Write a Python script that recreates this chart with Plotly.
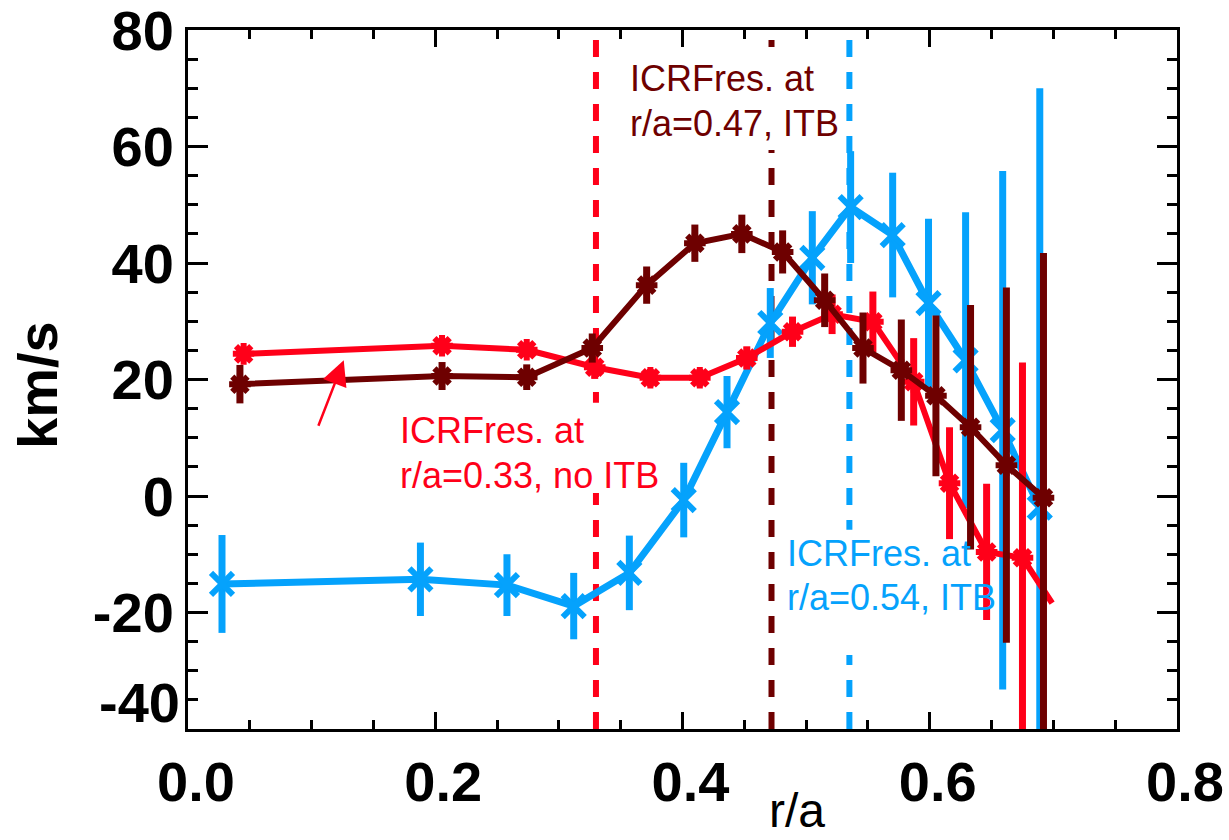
import plotly.graph_objects as go

# ---------------- data ----------------
blue_x = [0.0275, 0.188, 0.258, 0.312, 0.357, 0.401, 0.436, 0.471, 0.505, 0.536, 0.570, 0.599, 0.629, 0.659, 0.689]
blue_y = [-15.1, -14.3, -15.3, -18.9, -13.2, -0.7, 14.4, 29.7, 40.9, 49.6, 44.8, 33.1, 23.3, 11.3, -2.0]
blue_err = [8.4, 6.3, 5.3, 5.7, 6.4, 6.4, 6.2, 6.0, 8.0, 9.6, 10.7, 14.5, 25.4, 44.5, 72.0]

red_x = [0.045, 0.2055, 0.274, 0.329, 0.374, 0.414, 0.452, 0.489, 0.521, 0.554, 0.587, 0.616, 0.646, 0.675, 0.699]
red_y = [24.4, 25.8, 25.1, 22.1, 20.3, 20.3, 23.7, 28.2, 31.2, 29.9, 19.6, 2.2, -9.6, -10.6, -18.4]
red_err = [1.0, 1.0, 1.0, 2.0, 1.5, 1.5, 2.0, 2.6, 3.4, 5.2, 7.5, 9.6, 11.7, 33.5, 0.0]

dred_x = [0.042, 0.2055, 0.274, 0.327, 0.371, 0.410, 0.448, 0.481, 0.515, 0.546, 0.577, 0.605, 0.633, 0.662, 0.692]
dred_y = [19.2, 20.6, 20.4, 25.4, 36.2, 43.4, 45.0, 41.9, 33.6, 25.4, 21.6, 17.2, 11.8, 5.3, -0.3]
dred_err = [3.3, 2.4, 2.2, 2.5, 3.2, 3.2, 3.3, 3.7, 4.6, 6.1, 8.7, 13.8, 21.0, 30.5, 42.0]

res_red = 0.33
res_dred = 0.472
res_blue = 0.535

x_ticks = [0.0, 0.2, 0.4, 0.6, 0.8]
x_ticktext = ["0.0", "0.2", "0.4", "0.6", "0.8"]
y_ticks = [-20, 0, 20, 40, 60, 80]
y_ticktext = ["-20", "0", "20", "40", "60", "80"]

RED = "#ff0019"
DRED = "#6e0000"
BLUE = "#05a2fc"

# ---------------- layout geometry (pixels) ----------------
W, H = 1229, 840
ML, MR, MT, MB = 188, 52, 30, 111
PW, PH = W - ML - MR, H - MT - MB


def px2paper_x(px):
    return (px - ML) / PW


def px2paper_y(py):
    return (H - MB - py) / PH


fig = go.Figure()

# blue series
fig.add_trace(go.Scatter(
    x=blue_x, y=blue_y, mode="lines+markers",
    line=dict(color=BLUE, width=7),
    marker=dict(symbol="x-thin-open", size=22, color=BLUE, opacity=1, line=dict(color=BLUE, width=6)),
    error_y=dict(type="data", array=blue_err, visible=True, color=BLUE, thickness=7, width=0),
    showlegend=False,
))

# red series
red_sizes = [18] * (len(red_x) - 1) + [0]
fig.add_trace(go.Scatter(
    x=red_x, y=red_y, mode="lines+markers",
    line=dict(color=RED, width=6),
    marker=dict(symbol="asterisk-open", size=red_sizes, color=RED, opacity=1, line=dict(color=RED, width=6)),
    error_y=dict(type="data", array=red_err, visible=True, color=RED, thickness=7, width=0),
    showlegend=False,
))

# dark red series
fig.add_trace(go.Scatter(
    x=dred_x, y=dred_y, mode="lines+markers",
    line=dict(color=DRED, width=6),
    marker=dict(symbol="asterisk-open", size=18, color=DRED, opacity=1, line=dict(color=DRED, width=6)),
    error_y=dict(type="data", array=dred_err, visible=True, color=DRED, thickness=7, width=0),
    showlegend=False,
))

shapes = []
for xv, col in [(res_red, RED), (res_dred, DRED), (res_blue, BLUE)]:
    shapes.append(dict(type="line", xref="x", yref="paper", x0=xv, x1=xv, y0=0, y1=1,
                       line=dict(color=col, width=6, dash="17px,15px"), layer="below"))

# white text backgrounds (cut the dashed lines)
for (x0, x1, y0, y1) in [(0.350, 0.527, 59.4, 77.1), (0.163, 0.382, 0.5, 16.0), (0.479, 0.653, -27.3, -5.8)]:
    shapes.append(dict(type="rect", xref="x", yref="y", x0=x0, x1=x1, y0=y0, y1=y1,
                       fillcolor="white", line=dict(width=0), layer="below"))

TXT = "Liberation Sans, Arial, sans-serif"
annotations = []
for txt, xv, yv, col in [
    ("ICRFres. at", 0.356, 71.6, DRED), ("r/a=0.47, ITB", 0.356, 63.9, DRED),
    ("ICRFres. at", 0.170, 11.3, RED), ("r/a=0.33, no ITB", 0.170, 3.6, RED),
    ("ICRFres. at", 0.483, -9.9, BLUE), ("r/a=0.54, ITB", 0.483, -17.4, BLUE),
]:
    annotations.append(dict(text=txt, x=xv, y=yv, xref="x", yref="y", xanchor="left", yanchor="middle",
                            showarrow=False, font=dict(family=TXT, size=36, color=col)))

# arrow
annotations.append(dict(x=0.126, y=23.3, ax=0.105, ay=11.8, xref="x", yref="y", axref="x", ayref="y",
                        text="", showarrow=True, arrowhead=2, arrowsize=2, arrowwidth=2.5, arrowcolor=RED))

# axis titles and -40 label
annotations.append(dict(text="<b>km/s</b>", x=px2paper_x(37), y=px2paper_y(385), xref="paper", yref="paper",
                        textangle=-90, showarrow=False, xanchor="center", yanchor="middle",
                        font=dict(family=TXT, size=56, color="black")))
annotations.append(dict(text="r/a", x=px2paper_x(797), y=px2paper_y(839), xref="paper", yref="paper",
                        showarrow=False, xanchor="center", yanchor="bottom",
                        font=dict(family=TXT, size=48, color="black")))
annotations.append(dict(text="<b>-40</b>", x=px2paper_x(182), y=px2paper_y(702), xref="paper", yref="paper",
                        showarrow=False, xanchor="right", yanchor="middle",
                        font=dict(family=TXT, size=56, color="black")))

fig.update_layout(
    width=W, height=H,
    margin=dict(l=ML, r=MR, t=MT, b=MB, pad=0, autoexpand=False),
    paper_bgcolor="white", plot_bgcolor="white",
    shapes=shapes, annotations=annotations,
    xaxis=dict(range=[0, 0.8], tickvals=x_ticks, ticktext=x_ticktext, automargin=False,
               ticks="inside", ticklen=17, tickwidth=2.5, tickcolor="black",
               minor=dict(dtick=0.05, ticks="inside", ticklen=9, tickwidth=2.5, tickcolor="black"),
               showline=True, linewidth=3, linecolor="black", mirror="ticks",
               showgrid=False, zeroline=False, ticklabelstandoff=2, ticklabelshift=8,
               ticklabeloverflow="allow",
               tickfont=dict(family=TXT, size=56, color="black", weight="bold")),
    yaxis=dict(range=[-40, 80], tickvals=y_ticks, ticktext=y_ticktext, automargin=False,
               ticks="inside", ticklen=20, tickwidth=2.5, tickcolor="black",
               minor=dict(dtick=5, ticks="inside", ticklen=10, tickwidth=2.5, tickcolor="black"),
               showline=True, linewidth=3, linecolor="black", mirror="ticks",
               showgrid=False, zeroline=False, ticklabeloverflow="allow",
               tickfont=dict(family=TXT, size=56, color="black", weight="bold")),
)

fig.write_html("out.html")
